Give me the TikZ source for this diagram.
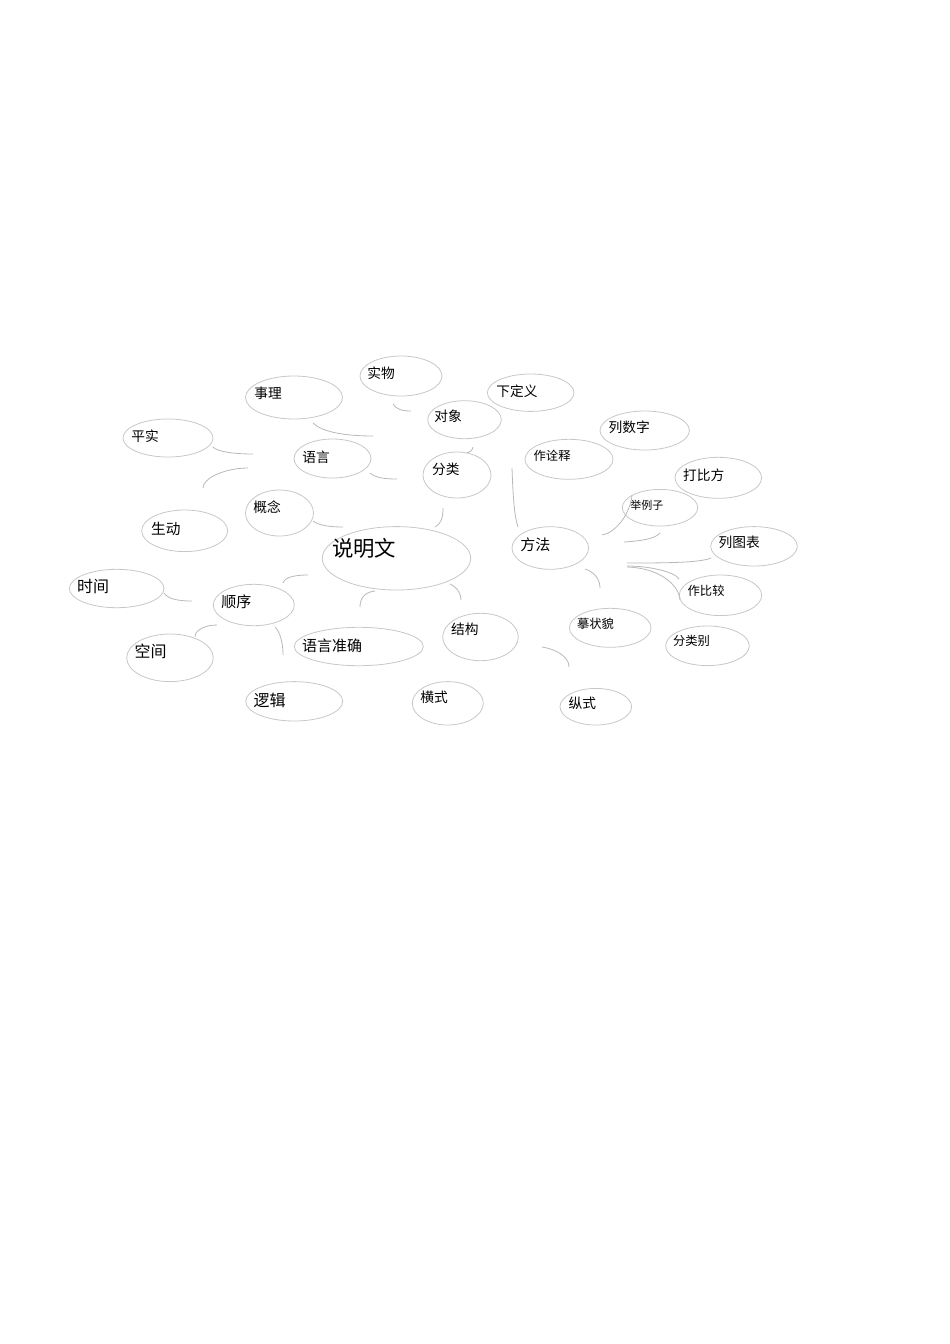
\documentclass[tikz,border=0pt]{standalone}
\usepackage{fontspec}
\setmainfont{Noto Sans CJK SC}
\usetikzlibrary{shapes.geometric}

\begin{document}
\begin{tikzpicture}[x=0.6266pt,y=-0.6266pt,line width=0.5pt,
    bubble/.style 2 args={ellipse,draw=black!22,inner sep=0pt,minimum width=#1*1.2532pt,minimum height=#2*1.2532pt},
    link/.style={draw=black!28},
    tag/.style={anchor=west,inner sep=0pt,font=\fontsize{8.6pt}{8.6pt}\selectfont},
    tag small/.style={tag,font=\fontsize{7.7pt}{7.7pt}\selectfont},
    tag tiny/.style={tag,font=\fontsize{6.9pt}{6.9pt}\selectfont},
    tag mid/.style={tag,font=\fontsize{9.4pt}{9.4pt}\selectfont},
    tag big/.style={tag,font=\fontsize{10pt}{10pt}\selectfont},
    tag main/.style={tag,font=\fontsize{13.4pt}{13.4pt}\selectfont}]
    \useasboundingbox (0,0) rectangle (950,1344);

    % bubbles
    \node[bubble={41}{20}] (shiwu) at (401,376) {};
    \node[bubble={48.5}{21.5}] (shili) at (294,397.5) {};
    \node[bubble={36.8}{19}] (duixiang) at (464.5,419.7) {};
    \node[bubble={45}{19}] (pingshi) at (168,438) {};
    \node[bubble={38.5}{19.5}] (yuyan) at (332.5,458.5) {};
    \node[bubble={34}{23}] (fenlei) at (457,475) {};
    \node[bubble={34}{23}] (gainian) at (279.5,513) {};
    \node[bubble={43}{20.8}] (shengdong) at (184.7,530.8) {};
    \node[bubble={74.2}{31.7}] (shuoming) at (396.5,558.3) {};
    \node[bubble={43.3}{18.7}] (xiadingyi) at (530.7,392.7) {};
    \node[bubble={44.7}{19.5}] (lieshuzi) at (644.7,430.5) {};
    \node[bubble={44}{20}] (zuoquanshi) at (569,459.3) {};
    \node[bubble={43.3}{20.5}] (dabifang) at (718.3,477.8) {};
    \node[bubble={37.7}{18.3}] (julizi) at (660,507.7) {};
    \node[bubble={38.3}{21.3}] (fangfa) at (550.3,548) {};
    \node[bubble={43.3}{19.7}] (lietubiao) at (754,546.3) {};
    \node[bubble={41.2}{20.3}] (zuobijiao) at (720.5,595.3) {};
    \node[bubble={40.8}{19.5}] (mozhuangmao) at (610.2,627.8) {};
    \node[bubble={41.8}{19.8}] (fenleibie) at (707.5,645.8) {};
    \node[bubble={37.8}{23.7}] (jiegou) at (480.5,637) {};
    \node[bubble={35.5}{21.7}] (hengshi) at (447.8,703.3) {};
    \node[bubble={35.8}{18.3}] (zongshi) at (595.8,706.7) {};
    \node[bubble={47.3}{19.2}] (shijian) at (116.7,588.5) {};
    \node[bubble={40.5}{20.7}] (shunxu) at (253.8,605) {};
    \node[bubble={43.3}{23.8}] (kongjian) at (170,657.8) {};
    \node[bubble={64.5}{19.2}] (zhunque) at (358.8,646.5) {};
    \node[bubble={48.5}{19.7}] (luoji) at (294.2,701.3) {};

    % texts
    \node[tag] (t-shiwu) at (367,373) {实物};
    \node[tag] (t-shili) at (254,393) {事理};
    \node[tag] (t-duixiang) at (434,416.7) {对象};
    \node[tag] (t-pingshi) at (131,436) {平实};
    \node[tag] (t-yuyan) at (302,457) {语言};
    \node[tag] (t-fenlei) at (431.7,469) {分类};
    \node[tag] (t-gainian) at (253,506.7) {概念};
    \node[tag,font=\fontsize{9.2pt}{9.2pt}\selectfont] (t-shengdong) at (150.7,529.3) {生动};
    \node[tag main] (t-shuoming) at (331.7,548.3) {说明文};
    \node[tag] (t-xiadingyi) at (496,391.3) {下定义};
    \node[tag] (t-lieshuzi) at (608.3,427) {列数字};
    \node[tag small] (t-zuoquanshi) at (533.3,456) {作诠释};
    \node[tag] (t-dabifang) at (682.7,475) {打比方};
    \node[tag tiny] (t-julizi) at (630,505) {举例子};
    \node[tag mid] (t-fangfa) at (520,545) {方法};
    \node[tag] (t-lietubiao) at (718.3,542.7) {列图表};
    \node[tag small] (t-zuobijiao) at (687.3,590.7) {作比较};
    \node[tag small] (t-mozhuangmao) at (576.7,624.3) {摹状貌};
    \node[tag small] (t-fenleibie) at (672.7,641) {分类别};
    \node[tag] (t-jiegou) at (450.7,629) {结构};
    \node[tag] (t-hengshi) at (420,697.7) {横式};
    \node[tag] (t-zongshi) at (568.3,703.3) {纵式};
    \node[tag big] (t-shijian) at (76.7,586.7) {时间};
    \node[tag mid] (t-shunxu) at (221,601.7) {顺序};
    \node[tag big] (t-kongjian) at (134.3,651.7) {空间};
    \node[tag mid] (t-zhunque) at (301.7,646) {语言准确};
    \node[tag big] (t-luoji) at (253.3,700) {逻辑};

    % links
    \draw[link] (393,404) coordinate (l1a) .. controls (396,409) and (402,411) .. (411,411) coordinate (l1b);
    \draw[link] (313,423) coordinate (l2a) .. controls (322,432) and (345,436) .. (373,436) coordinate (l2b);
    \draw[link] (473,447) coordinate (l3a) .. controls (472,451) and (470,452) .. (467,453) coordinate (l3b);
    \draw[link] (212.7,447) coordinate (l4a) .. controls (218,452) and (235,454) .. (253,454) coordinate (l4b);
    \draw[link] (248,468) coordinate (l5a) .. controls (225,468) and (203,478) .. (203,488) coordinate (l5b);
    \draw[link] (370,473) coordinate (l6a) .. controls (376,478) and (385,479) .. (397,479) coordinate (l6b);
    \draw[link] (443,508) coordinate (l7a) .. controls (443,518) and (441,524) .. (435,527) coordinate (l7b);
    \draw[link] (313,521) coordinate (l8a) .. controls (318,525) and (328,527) .. (343,527) coordinate (l8b);
    \draw[link] (512,468) coordinate (l9a) .. controls (513,495) and (514,515) .. (518,527) coordinate (l9b);
    \draw[link] (602,535) coordinate (l10a) .. controls (615,533) and (630,515) .. (632,495) coordinate (l10b);
    \draw[link] (624,542) coordinate (l11a) .. controls (640,541) and (655,539) .. (660,533) coordinate (l11b);
    \draw[link] (627,563) coordinate (l12a) .. controls (660,563) and (700,563) .. (711,558) coordinate (l12b);
    \draw[link] (627,566) coordinate (l13a) .. controls (650,566) and (675,572) .. (679,579) coordinate (l13b);
    \draw[link] (627,567) coordinate (l14a) .. controls (660,568) and (679,585) .. (680,600) coordinate (l14b);
    \draw[link] (585,569) coordinate (l15a) .. controls (595,572) and (600,580) .. (600,588) coordinate (l15b);
    \draw[link] (450,584) coordinate (l16a) .. controls (458,588) and (461,594) .. (461,600) coordinate (l16b);
    \draw[link] (542,647) coordinate (l17a) .. controls (555,649) and (569,656) .. (569,667) coordinate (l17b);
    \draw[link] (283,583) coordinate (l18a) .. controls (285,577) and (295,575) .. (308,575) coordinate (l18b);
    \draw[link] (164,593) coordinate (l19a) .. controls (168,599) and (178,601) .. (192,601) coordinate (l19b);
    \draw[link] (360,607) coordinate (l20a) .. controls (360,598) and (365,592) .. (375,591) coordinate (l20b);
    \draw[link] (217,625) coordinate (l21a) .. controls (205,625) and (195,630) .. (195,637) coordinate (l21b);
    \draw[link] (275,627) coordinate (l22a) .. controls (281,633) and (283,645) .. (283,655) coordinate (l22b);
\end{tikzpicture}
\end{document}
